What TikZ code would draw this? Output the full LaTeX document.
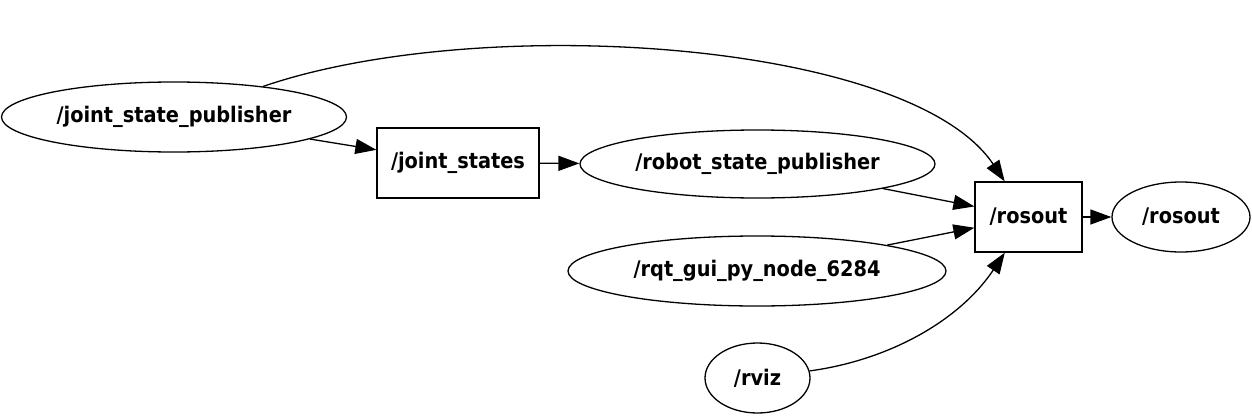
\documentclass[tikz,border=0pt]{standalone}
\usepackage{fontspec}
\setmainfont{DejaVu Sans Condensed}
\usetikzlibrary{arrows.meta}
\usetikzlibrary{shapes.geometric}
\tikzset{rosnode/.style = {draw, ellipse, line width=1.3pt, inner sep=0, font=\bfseries\fontsize{21.5}{22}\selectfont}}
\tikzset{rostopic/.style = {draw, rectangle, line width=1.3pt, inner sep=0, minimum height=70, font=\bfseries\fontsize{21.5}{22}\selectfont}}
\tikzset{edge/.style = {line width=1.3pt, -{Triangle[length=21pt,width=15pt]}}}

\begin{document}
\begin{tikzpicture}[x=1pt,y=-1pt]
        \useasboundingbox (0,0) rectangle (1252,415);
        \node [rosnode, minimum width=345, minimum height=70] (jsp) at (174,117) {/joint\_state\_publisher};
        \node [rostopic, minimum width=162] (jstates) at (458,163) {/joint\_states};
        \node [rosnode, minimum width=355, minimum height=68] (rsp) at (757.5,164) {/robot\_state\_publisher};
        \node [rosnode, minimum width=378, minimum height=70] (rqt) at (757,271) {/rqt\_gui\_py\_node\_6284};
        \node [rosnode, minimum width=105, minimum height=70] (rviz) at (757.5,378) {/rviz};
        \node [rostopic, minimum width=107] (rosouttopic) at (1028.5,217) {/rosout};
        \node [rosnode, minimum width=138, minimum height=70] (rosoutnode) at (1181,217) {/rosout};
        \draw [edge] (jsp) -- (jstates);
        \draw [edge] (jstates) -- (rsp);
        \draw [edge] (rsp) -- (rosouttopic);
        \draw [edge] (rqt) -- (rosouttopic);
        \draw [edge] (rosouttopic) -- (rosoutnode);
        \draw [edge] (jsp) .. controls (480,12) and (910,40) .. (rosouttopic);
        \draw [edge] (rviz) .. controls (890,360) and (960,320) .. (rosouttopic);
    \end{tikzpicture}
\end{document}
